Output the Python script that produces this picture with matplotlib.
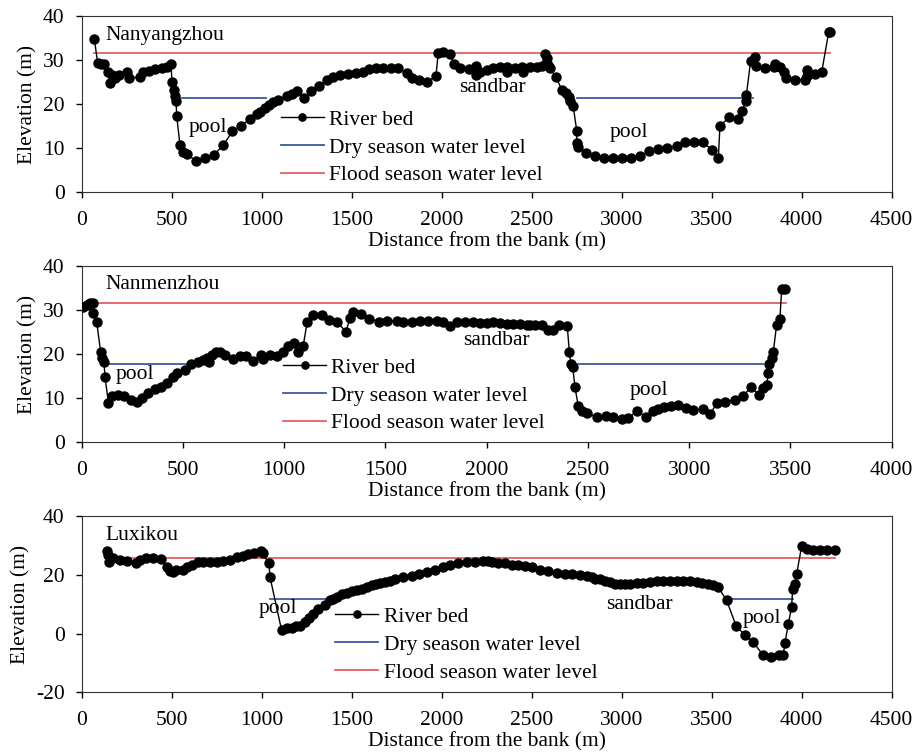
import matplotlib
matplotlib.use("Agg")
import matplotlib.pyplot as plt

plt.rcParams['font.family'] = ['Liberation Serif', 'DejaVu Serif']
plt.rcParams['font.size'] = 15.5
plt.rcParams['axes.unicode_minus'] = False

# Nanyangzhou section
ny_x = [70, 89, 110, 125, 148, 157, 167, 185, 209, 250, 262, 324, 342, 376, 407, 444, 472,
        496, 502, 513, 519, 524, 528, 546, 565, 583, 635, 685, 735, 787, 837, 885, 935,
        976, 991, 1018, 1039, 1065, 1092, 1139, 1167, 1198, 1237, 1273, 1318, 1361, 1398,
        1435, 1481, 1524, 1561, 1598, 1635, 1676, 1717, 1759, 1805, 1833, 1876, 1920, 1968,
        1981, 2009, 2046, 2068, 2101, 2151, 2190, 2192, 2213, 2250, 2287, 2324, 2361, 2361,
        2407, 2444, 2450, 2491, 2528, 2556, 2574, 2583, 2592, 2602, 2635, 2667, 2691, 2705,
        2715, 2731, 2750, 2750, 2760, 2802, 2852, 2902, 2953, 3000, 3050, 3102, 3153, 3203,
        3250, 3306, 3352, 3402, 3450, 3500, 3537, 3546, 3598, 3648, 3670, 3691, 3693, 3716,
        3741, 3746, 3796, 3846, 3852, 3879, 3900, 3911, 3961, 4017, 4028, 4030, 4074, 4111,
        4150, 4157]
ny_y = [34.8, 29.3, 29.0, 29.0, 27.4, 24.9, 26.7, 25.9, 26.7, 27.2, 26.0, 26.1, 27.2, 27.6,
        27.9, 28.2, 28.4, 29.0, 25.1, 23.2, 21.9, 20.8, 17.3, 10.7, 9.1, 8.7, 7.1, 7.7, 8.5,
        10.7, 13.8, 15.1, 16.6, 17.8, 18.3, 19.2, 19.8, 20.4, 21.0, 21.9, 22.3, 22.9, 21.5,
        22.9, 24.2, 25.4, 26.1, 26.7, 26.9, 27.0, 27.2, 28.0, 28.2, 28.3, 28.3, 28.3, 27.0,
        25.9, 25.4, 25.0, 26.4, 31.6, 31.9, 31.4, 29.2, 28.2, 28.0, 28.7, 26.7, 27.4, 27.8,
        28.2, 28.4, 28.5, 27.4, 28.2, 28.4, 27.4, 28.5, 28.5, 28.7, 31.4, 30.4, 28.9, 28.2,
        26.1, 23.3, 22.5, 21.6, 20.8, 19.5, 14.0, 11.1, 10.2, 9.0, 8.3, 7.7, 7.8, 7.8, 7.8,
        8.3, 9.3, 9.8, 10.0, 10.5, 11.3, 11.5, 11.5, 9.6, 7.7, 15.1, 17.0, 16.7, 18.5, 20.8,
        22.1, 29.7, 30.8, 28.7, 28.3, 28.5, 29.2, 28.5, 27.4, 25.9, 25.5, 25.5, 27.8, 26.4,
        26.9, 27.2, 36.3, 36.3]
ny_flood = 31.7
ny_flood_x = [70, 4157]
ny_dry = 21.3
ny_dry_x = [[559, 1024], [2750, 3728]]

# Nanmenzhou section
nm_x = [8, 25, 40, 54, 54, 74, 94, 100, 110, 115, 132, 148, 181, 209, 242, 272, 296, 329,
        362, 390, 420, 449, 472, 510, 538, 576, 601, 617, 630, 642, 663, 683, 708, 746, 782,
        811, 848, 884, 897, 930, 963, 996, 1020, 1048, 1070, 1094, 1114, 1144, 1185, 1223,
        1259, 1305, 1325, 1341, 1378, 1420, 1470, 1509, 1556, 1588, 1630, 1671, 1712, 1753,
        1783, 1819, 1852, 1893, 1934, 1967, 2000, 2033, 2066, 2099, 2131, 2164, 2198, 2214,
        2239, 2272, 2304, 2329, 2358, 2398, 2408, 2415, 2425, 2436, 2452, 2469, 2497, 2543,
        2589, 2625, 2667, 2699, 2744, 2785, 2820, 2847, 2876, 2909, 2946, 2984, 3020, 3067,
        3103, 3139, 3177, 3226, 3267, 3304, 3346, 3366, 3383, 3391, 3396, 3407, 3415, 3432,
        3448, 3457, 3473]
nm_y = [30.8, 31.2, 31.7, 31.7, 29.3, 27.3, 20.4, 19.1, 18.3, 14.8, 9.0, 10.4, 10.8, 10.4,
        9.6, 9.2, 10.0, 11.1, 12.0, 12.6, 13.5, 14.9, 15.7, 16.4, 17.8, 18.3, 18.7, 19.1,
        18.3, 19.8, 20.4, 20.4, 19.8, 18.9, 19.5, 19.6, 18.5, 19.8, 18.9, 19.8, 19.5, 20.4,
        21.9, 22.5, 20.4, 21.9, 27.4, 28.9, 28.8, 27.8, 27.4, 25.1, 28.2, 29.5, 29.2, 28.0,
        27.4, 27.6, 27.6, 27.4, 27.3, 27.6, 27.6, 27.6, 27.2, 26.4, 27.2, 27.3, 27.2, 27.0,
        27.0, 27.2, 27.0, 26.9, 26.9, 26.8, 26.7, 26.7, 26.7, 26.7, 25.5, 25.5, 26.7,
        26.3, 20.6, 17.8, 17.0, 12.5, 8.3, 7.0, 6.6, 5.8, 6.0, 5.7, 5.2, 5.4, 7.2, 5.7, 7.2,
        7.5, 7.9, 8.3, 8.5, 7.7, 7.3, 7.5, 6.4, 9.0, 9.2, 9.6, 10.5, 12.5, 10.8, 12.3, 13.1,
        15.7, 17.8, 19.1, 20.4, 26.7, 28.0, 34.8, 34.8]
nm_flood = 31.6
nm_flood_x = [8, 3478]
nm_dry = 17.7
nm_dry_x = [[99, 515], [2452, 3366]]

# Luxikou section
lx_x = [139, 148, 153, 176, 213, 253, 300, 324, 357, 394, 439, 472, 490, 509, 524, 565, 583,
        611, 648, 676, 713, 750, 787, 824, 861, 894, 922, 957, 996, 1005, 1040, 1046, 1111,
        1139, 1167, 1191, 1213, 1241, 1265, 1287, 1315, 1352, 1379, 1398, 1417, 1444, 1472,
        1500, 1528, 1556, 1583, 1611, 1635, 1657, 1685, 1713, 1741, 1787, 1833, 1876, 1917,
        1963, 2006, 2046, 2092, 2139, 2185, 2231, 2259, 2278, 2315, 2352, 2389, 2426, 2463,
        2500, 2546, 2592, 2639, 2685, 2722, 2768, 2806, 2833, 2852, 2879, 2907, 2935, 2963,
        2991, 3018, 3046, 3083, 3120, 3157, 3194, 3231, 3268, 3306, 3342, 3379, 3417, 3444,
        3481, 3509, 3537, 3583, 3635, 3685, 3731, 3783, 3828, 3876, 3898, 3907, 3926, 3944,
        3950, 3961, 3972, 4000, 4028, 4065, 4102, 4139, 4185]
lx_y = [28.3, 26.8, 24.5, 25.7, 25.1, 24.9, 24.0, 25.3, 25.7, 25.9, 25.4, 22.6, 21.4, 21.1,
        21.9, 21.9, 22.8, 23.6, 24.3, 24.3, 24.5, 24.5, 24.9, 25.3, 26.2, 26.5, 27.1, 27.4,
        28.2, 27.4, 24.0, 19.4, 1.1, 2.0, 2.0, 2.5, 2.8, 4.0, 5.5, 6.8, 8.6, 9.7, 11.4, 12.0,
        12.5, 13.4, 13.9, 14.5, 14.8, 15.4, 16.0, 16.5, 16.9, 17.3, 17.7, 18.0, 18.5, 19.2,
        19.6, 20.3, 21.1, 21.9, 22.6, 23.4, 24.0, 24.5, 24.5, 24.8, 24.9, 24.5, 24.2, 24.0,
        23.6, 23.4, 23.0, 22.6, 21.9, 21.4, 20.8, 20.5, 20.3, 20.0, 19.6, 19.4, 18.8, 18.5,
        18.0, 17.7, 17.1, 16.9, 16.9, 17.1, 17.3, 17.3, 17.7, 17.9, 17.9, 18.0, 17.9, 18.0,
        17.9, 17.7, 17.3, 16.9, 16.5, 15.8, 11.4, 2.8, -0.6, -2.9, -7.1, -8.0, -7.4, -7.1,
        -3.2, 3.4, 9.1, 15.4, 17.1, 20.3, 29.9, 28.8, 28.5, 28.5, 28.5, 28.5]
lx_flood = 26.0
lx_flood_x = [139, 4185]
lx_dry = 12.0
lx_dry_x = [[1046, 1361], [3583, 3953]]

dry_color = '#3B5B9B'
flood_color = '#E06262'

fig = plt.figure(figsize=(9.2, 7.54), dpi=100)
ax1 = fig.add_axes([0.0888, 0.745, 0.8804, 0.2338])
ax2 = fig.add_axes([0.0888, 0.4134, 0.8804, 0.2338])
ax3 = fig.add_axes([0.0888, 0.0818, 0.8804, 0.2332])

panels = [
    (ax1, ny_x, ny_y, ny_flood, ny_flood_x, ny_dry, ny_dry_x, (0, 4500), (0, 40), [0, 10, 20, 30, 40], 0.246, 0.468),
    (ax2, nm_x, nm_y, nm_flood, nm_flood_x, nm_dry, nm_dry_x, (0, 4000), (0, 40), [0, 10, 20, 30, 40], 0.2485, 0.48),
    (ax3, lx_x, lx_y, lx_flood, lx_flood_x, lx_dry, lx_dry_x, (0, 4500), (-20, 40), [-20, 0, 20, 40], 0.313, 0.486),
]

for ax, xs, ys, fl, flx, dr, drx, xlim, ylim, yt, lgx, lgy in panels:
    h1, = ax.plot(xs, ys, color='black', lw=1, marker='o', ms=6.5, label='River bed', zorder=3)
    h2 = None
    for seg in drx:
        h2, = ax.plot(seg, [dr, dr], color=dry_color, lw=1.3, label='Dry season water level', zorder=2)
    h3, = ax.plot(flx, [fl, fl], color=flood_color, lw=1.3, label='Flood season water level', zorder=2)
    ax.set_xlim(*xlim)
    ax.set_ylim(*ylim)
    ax.set_yticks(yt)
    ax.tick_params(axis='x', direction='out', length=4.3, width=1, pad=9)
    ax.tick_params(axis='y', direction='out', length=4.3, width=1, pad=8)
    for s in ax.spines.values():
        s.set_color('#333333')
    ax.set_xlabel('Distance from the bank (m)', labelpad=1.4)
    ax.set_ylabel('Elevation (m)', labelpad=4)
    ax.legend([h1, h2, h3], ['River bed', 'Dry season water level', 'Flood season water level'],
              loc='upper left', bbox_to_anchor=(lgx, lgy), frameon=False, borderpad=0,
              borderaxespad=0, handlelength=2.0, handletextpad=0.25, labelspacing=0.36,
              markerscale=0.8)

ax1.text(130, 35.5, 'Nanyangzhou', ha='left', va='center')
ax1.text(700, 14.8, 'pool', ha='center', va='center')
ax1.text(2280, 23.7, 'sandbar', ha='center', va='center')
ax1.text(3040, 13.5, 'pool', ha='center', va='center')

ax2.text(115, 35.8, 'Nanmenzhou', ha='left', va='center')
ax2.text(261, 15.3, 'pool', ha='center', va='center')
ax2.text(2050, 23.2, 'sandbar', ha='center', va='center')
ax2.text(2800, 11.7, 'pool', ha='center', va='center')

ax3.text(130, 33.5, 'Luxikou', ha='left', va='center')
ax3.text(1088, 8.6, 'pool', ha='center', va='center')
ax3.text(3096, 10.0, 'sandbar', ha='center', va='center')
ax3.text(3780, 5.1, 'pool', ha='center', va='center')

fig.savefig('out.png', dpi=100)
